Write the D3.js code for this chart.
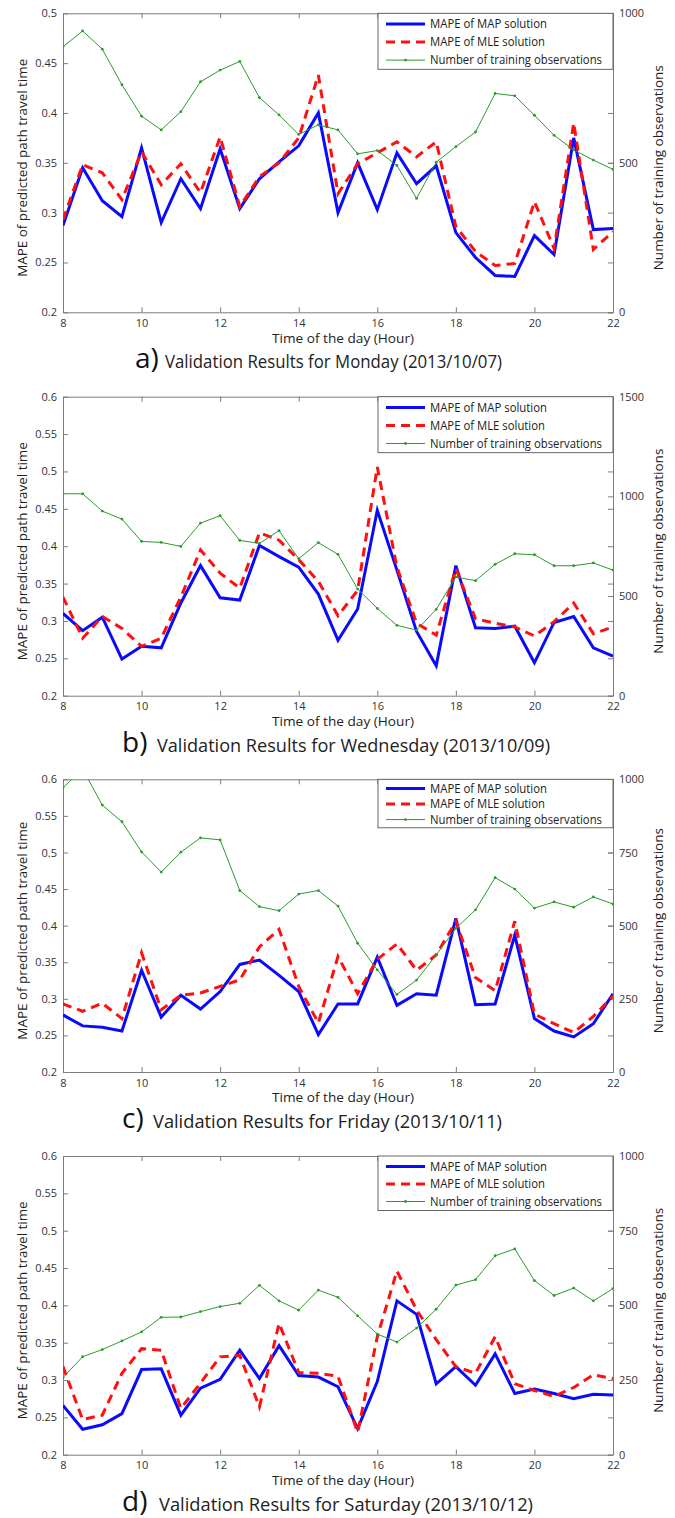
<!DOCTYPE html>
<html>
<head>
<meta charset="utf-8">
<script src="https://cdn.jsdelivr.net/npm/d3@7"></script>
<style>
  body { margin: 0; background: #fff; }
  svg text { font-family: "Open Sans", sans-serif; }
</style>
</head>
<body>
<div class="chart-container"></div>
<script>
// hours of the day on the x axis
const hours = [8, 8.5, 9, 9.5, 10, 10.5, 11, 11.5, 12, 12.5, 13, 13.5, 14, 14.5, 15,
               15.5, 16, 16.5, 17, 17.5, 18, 18.5, 19, 19.5, 20, 20.5, 21, 21.5, 22];
const xTicks = [8, 10, 12, 14, 16, 18, 20, 22];

// a) Monday
const mapMon = [0.287, 0.345, 0.312, 0.296, 0.365, 0.290, 0.334, 0.304, 0.364, 0.304, 0.334, 0.351, 0.367, 0.400, 0.300,
                0.350, 0.303, 0.360, 0.329, 0.347, 0.280, 0.255, 0.237, 0.236, 0.277, 0.258, 0.375, 0.283, 0.284];
const mleMon = [0.293, 0.348, 0.340, 0.313, 0.361, 0.328, 0.349, 0.320, 0.376, 0.306, 0.336, 0.350, 0.375, 0.438, 0.319,
                0.349, 0.360, 0.371, 0.356, 0.371, 0.286, 0.261, 0.247, 0.249, 0.311, 0.264, 0.390, 0.263, 0.281];
const obsMon = [888, 941, 880, 761, 656, 610, 671, 771, 810, 839, 718, 660, 595, 627, 610,
                530, 541, 491, 381, 502, 554, 603, 732, 724, 659, 592, 543, 509, 478];

// b) Wednesday
const mapWed = [0.310, 0.287, 0.305, 0.249, 0.266, 0.264, 0.324, 0.374, 0.331, 0.328, 0.401, 0.386, 0.372, 0.336, 0.274,
                0.316, 0.448, 0.368, 0.286, 0.240, 0.374, 0.291, 0.290, 0.293, 0.244, 0.298, 0.306, 0.264, 0.253];
const mleWed = [0.332, 0.277, 0.306, 0.290, 0.266, 0.277, 0.332, 0.395, 0.364, 0.344, 0.418, 0.408, 0.382, 0.353, 0.307,
                0.341, 0.506, 0.372, 0.297, 0.281, 0.370, 0.303, 0.297, 0.292, 0.280, 0.299, 0.324, 0.283, 0.292];
const obsWed = [1013, 1013, 926, 886, 774, 769, 749, 866, 903, 779, 764, 828, 687, 768, 709,
                535, 438, 353, 329, 433, 595, 577, 659, 712, 707, 652, 652, 666, 630];

// c) Friday
const mapFri = [0.278, 0.263, 0.261, 0.256, 0.339, 0.275, 0.305, 0.286, 0.310, 0.347, 0.353, 0.332, 0.310, 0.251, 0.293,
                0.293, 0.357, 0.291, 0.307, 0.305, 0.410, 0.292, 0.293, 0.387, 0.273, 0.256, 0.248, 0.266, 0.307];
const mleFri = [0.293, 0.283, 0.294, 0.273, 0.363, 0.285, 0.305, 0.308, 0.317, 0.326, 0.371, 0.395, 0.317, 0.267, 0.358,
                0.307, 0.354, 0.375, 0.339, 0.360, 0.406, 0.329, 0.311, 0.406, 0.279, 0.266, 0.254, 0.276, 0.304];
const obsFri = [971, 1035, 912, 855, 752, 683, 751, 800, 793, 620, 565, 551, 608, 620, 567,
                440, 349, 265, 314, 400, 491, 554, 664, 625, 560, 581, 563, 598, 574];

// d) Saturday
const mapSat = [0.266, 0.234, 0.240, 0.255, 0.314, 0.315, 0.253, 0.289, 0.301, 0.340, 0.302, 0.346, 0.306, 0.304, 0.291,
                0.235, 0.298, 0.406, 0.388, 0.295, 0.318, 0.293, 0.335, 0.282, 0.288, 0.282, 0.275, 0.281, 0.280];
const mleSat = [0.318, 0.247, 0.253, 0.309, 0.342, 0.340, 0.262, 0.296, 0.331, 0.333, 0.264, 0.376, 0.310, 0.309, 0.305,
                0.230, 0.358, 0.446, 0.394, 0.354, 0.318, 0.309, 0.358, 0.295, 0.286, 0.278, 0.290, 0.307, 0.302];
const obsSat = [258, 328, 352, 381, 411, 460, 461, 479, 496, 507, 567, 515, 484, 551, 527,
                465, 404, 377, 424, 487, 568, 586, 666, 689, 583, 533, 558, 515, 556];

// tick values
const leftTicksShort = [0.2, 0.25, 0.3, 0.35, 0.4, 0.45, 0.5];
const leftTicksTall = [0.2, 0.25, 0.3, 0.35, 0.4, 0.45, 0.5, 0.55, 0.6];
const rightTicksMon = [0, 500, 1000];
const rightTicksWed = [0, 500, 1000, 1500];
const rightTicksQuarter = [0, 250, 500, 750, 1000];

const captionLetters = ["a)", "b)", "c)", "d)"];
const captionTexts = ["Validation Results for Monday (2013/10/07)",
                      "Validation Results for Wednesday (2013/10/09)",
                      "Validation Results for Friday (2013/10/11)",
                      "Validation Results for Saturday (2013/10/12)"];
const legendLabels = ["MAPE of MAP solution", "MAPE of MLE solution", "Number of training observations"];
const xTitle = "Time of the day (Hour)";
const yTitle = "MAPE of predicted path travel time";
const y2Title = "Number of training observations";

const panels = [
  { map: mapMon, mle: mleMon, obs: obsMon, left: leftTicksShort, right: rightTicksMon },
  { map: mapWed, mle: mleWed, obs: obsWed, left: leftTicksTall, right: rightTicksWed },
  { map: mapFri, mle: mleFri, obs: obsFri, left: leftTicksTall, right: rightTicksQuarter },
  { map: mapSat, mle: mleSat, obs: obsSat, left: leftTicksTall, right: rightTicksQuarter }
];

// layout of each panel (pixels)
const layout = [
  { top: 13.3, bottom: 312.3, row: 18, capX: 135, textX: 165, textW: 337 },
  { top: 396.7, bottom: 695.7, row: 18, capX: 122, textX: 157, textW: 393 },
  { top: 779.3, bottom: 1072, row: 15.5, capX: 122, textX: 153, textW: 349 },
  { top: 1156, bottom: 1454.7, row: 17.5, capX: 122, textX: 159, textW: 374 }
];

let w = 675, h = 1518;
let xLeft = 63, xRight = 613;
let axisGray = "#7d7d7d";
let textCol = "#333";
let blue = "#0a0aff", red = "#ff1010", green = "#2c9a2c";

let svg = d3.select(".chart-container").append("svg")
  .attr("width", w).attr("height", h);

let x = d3.scaleLinear().domain([8, 22]).range([xLeft, xRight]);
let fmt = d => String(Math.round(d * 100) / 100);

function styleAxis(sel) {
  sel.attr("font-family", "Open Sans, sans-serif").attr("font-size", 11);
  sel.select(".domain").attr("stroke", axisGray);
  sel.selectAll(".tick line").attr("stroke", axisGray);
  sel.selectAll(".tick text").attr("fill", textCol);
}

panels.forEach((p, i) => {
  let L = layout[i];
  let yL = d3.scaleLinear().domain([p.left[0], p.left[p.left.length - 1]]).range([L.bottom, L.top]);
  let yR = d3.scaleLinear().domain([p.right[0], p.right[p.right.length - 1]]).range([L.bottom, L.top]);
  let g = svg.append("g");

  g.append("clipPath").attr("id", "clip" + i)
    .append("rect")
    .attr("x", xLeft).attr("y", L.top)
    .attr("width", xRight - xLeft).attr("height", L.bottom - L.top);

  // axes with inward ticks on all four sides
  g.append("g").attr("transform", `translate(0,${L.bottom})`)
    .call(d3.axisBottom(x).tickValues(xTicks).tickSizeInner(-5).tickSizeOuter(0).tickPadding(7).tickFormat(d3.format("d")))
    .call(styleAxis);
  g.append("g").attr("transform", `translate(0,${L.top})`)
    .call(d3.axisTop(x).tickValues(xTicks).tickSizeInner(-5).tickSizeOuter(0).tickFormat(""))
    .call(styleAxis);
  g.append("g").attr("transform", `translate(${xLeft},0)`)
    .call(d3.axisLeft(yL).tickValues(p.left).tickSizeInner(-5).tickSizeOuter(0).tickPadding(6).tickFormat(fmt))
    .call(styleAxis);
  g.append("g").attr("transform", `translate(${xRight},0)`)
    .call(d3.axisRight(yL).tickValues(p.left).tickSizeInner(-5).tickSizeOuter(0).tickFormat(""))
    .call(styleAxis);
  g.append("g").attr("transform", `translate(${xRight},0)`)
    .call(d3.axisRight(yR).tickValues(p.right).tickSizeInner(-5).tickSizeOuter(0).tickPadding(6).tickFormat(d3.format("d")))
    .call(styleAxis);

  // series
  let plot = g.append("g").attr("clip-path", `url(#clip${i})`);
  let lineL = d3.line().x((d, j) => x(hours[j])).y(d => yL(d));
  let lineR = d3.line().x((d, j) => x(hours[j])).y(d => yR(d));

  plot.append("path").datum(p.map).attr("d", lineL)
    .attr("fill", "none").attr("stroke", blue).attr("stroke-width", 3).attr("stroke-linejoin", "miter");
  plot.append("path").datum(p.mle).attr("d", lineL)
    .attr("fill", "none").attr("stroke", red).attr("stroke-width", 3).attr("stroke-dasharray", "9,6");
  plot.append("path").datum(p.obs).attr("d", lineR)
    .attr("fill", "none").attr("stroke", green).attr("stroke-width", 1);
  plot.selectAll("circle").data(p.obs).enter().append("circle")
    .attr("cx", (d, j) => x(hours[j])).attr("cy", d => yR(d))
    .attr("r", 1.4).attr("fill", green);

  // legend
  let lg = g.append("g");
  let lgTop = L.top, lgLeft = 378;
  lg.append("rect")
    .attr("x", lgLeft).attr("y", lgTop)
    .attr("width", xRight - lgLeft).attr("height", L.row * 3 + 2)
    .attr("fill", "#fff").attr("stroke", "#555").attr("stroke-width", 0.9);
  let styles = [
    { c: blue, sw: 3, dash: null },
    { c: red, sw: 3, dash: "9,6" },
    { c: green, sw: 1, dash: null }
  ];
  let widths = [117, 115, 172];
  legendLabels.forEach((lab, k) => {
    let yy = lgTop + L.row * 0.6 + k * L.row;
    let s = styles[k];
    let ln = lg.append("line").attr("x1", 386).attr("x2", 425).attr("y1", yy).attr("y2", yy)
      .attr("stroke", s.c).attr("stroke-width", s.sw);
    if (s.dash) ln.attr("stroke-dasharray", s.dash);
    if (k === 2) lg.append("circle").attr("cx", 405.5).attr("cy", yy).attr("r", 1.4).attr("fill", green);
    lg.append("text").attr("x", 430).attr("y", yy).attr("dy", "0.35em")
      .attr("font-size", 12.5).attr("fill", "#222")
      .attr("textLength", widths[k]).attr("lengthAdjust", "spacingAndGlyphs")
      .text(lab);
  });

  // axis titles
  let cy = (L.top + L.bottom) / 2 + 5;
  g.append("text")
    .attr("transform", `translate(22,${cy}) rotate(-90)`)
    .attr("text-anchor", "middle").attr("dy", "0.35em")
    .attr("font-size", 13).attr("fill", "#222")
    .attr("textLength", 218).attr("lengthAdjust", "spacingAndGlyphs")
    .text(yTitle);
  g.append("text")
    .attr("transform", `translate(658,${cy}) rotate(-90)`)
    .attr("text-anchor", "middle").attr("dy", "0.35em")
    .attr("font-size", 13).attr("fill", "#222")
    .attr("textLength", 205).attr("lengthAdjust", "spacingAndGlyphs")
    .text(y2Title);
  g.append("text")
    .attr("x", (xLeft + xRight) / 2 + 5).attr("y", L.bottom + 26).attr("dy", "0.35em")
    .attr("text-anchor", "middle")
    .attr("font-size", 12).attr("fill", "#222")
    .attr("textLength", 142).attr("lengthAdjust", "spacingAndGlyphs")
    .text(xTitle);

  // caption
  g.append("text")
    .attr("x", L.capX).attr("y", L.bottom + 56)
    .attr("font-family", "Liberation Sans, sans-serif")
    .attr("font-size", 28).attr("fill", "#111")
    .text(captionLetters[i]);
  g.append("text")
    .attr("x", L.textX).attr("y", L.bottom + 56)
    .attr("font-size", 19).attr("fill", "#222")
    .attr("textLength", L.textW).attr("lengthAdjust", "spacingAndGlyphs")
    .text(captionTexts[i]);
});
</script>
</body>
</html>
